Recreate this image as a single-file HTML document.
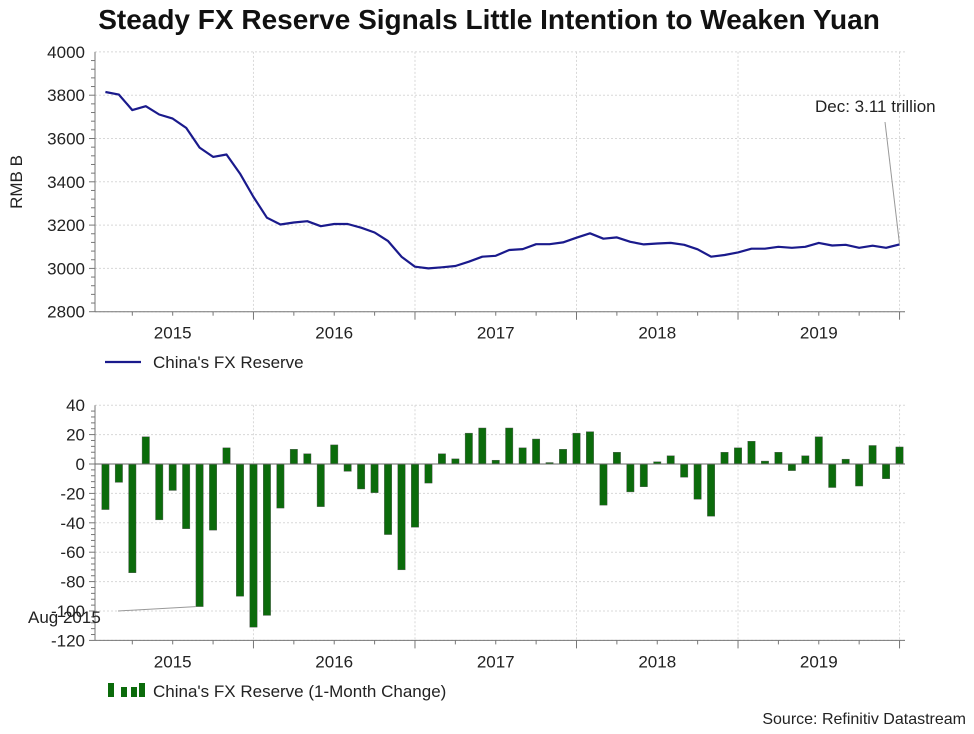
<!DOCTYPE html>
<html><head><meta charset="utf-8">
<style>
body{margin:0;background:#fff;}
svg text{font-family:"Liberation Sans",Arial,sans-serif;}
</style></head>
<body>
<svg id="chart" width="974" height="729" xmlns="http://www.w3.org/2000/svg">
<rect width="974" height="729" fill="#fff"/>
<text x="489" y="29" text-anchor="middle" font-size="28" font-weight="bold" fill="#111">Steady FX Reserve Signals Little Intention to Weaken Yuan</text>
<g id="top"></g>
<g id="bottom"></g>
<text x="966" y="724" text-anchor="end" font-size="16" fill="#222">Source: Refinitiv Datastream</text>
</svg>
<script>
const years = ["2015","2016","2017","2018","2019"];
const levelTicks = [2800,3000,3200,3400,3600,3800,4000];
const changeTicks = [-120,-100,-80,-60,-40,-20,0,20,40];
const reserveLevels = [3815,3803,3731,3749,3711,3692,3649,3558,3515,3526,3438,3330,
3234,3203,3212,3218,3195,3205,3205,3188,3166,3126,3054,3008,
3000,3005,3011,3031,3054,3058,3085,3089,3112,3112,3120,3142,
3162,3137,3143,3123,3111,3115,3118,3109,3088,3054,3062,3074,
3091,3091,3100,3095,3100,3118,3106,3109,3095,3105,3095,3111];
const monthlyChange = [-31,-12.5,-74,18.5,-38,-18,-44,-97,-45,11,-90,-111,
-103,-30,10,7,-29,13,-5,-17,-19.5,-48,-72,-43,
-13,7,3.5,21,24.5,2.6,24.5,11,17,1,10,21,
22,-28,8,-19,-15.5,1.5,5.6,-9,-24,-35.5,8,11,
15.5,2,8,-4.5,5.6,18.5,-16,3.3,-15,12.6,-10,11.6];

const NS="http://www.w3.org/2000/svg";
function mk(parent,tag,attrs,text){const e=document.createElementNS(NS,tag);for(const k in attrs)e.setAttribute(k,attrs[k]);if(text!==undefined)e.textContent=text;parent.appendChild(e);return e;}
const X0=95, XR=905, STEP=13.46;
const xMonth=i=>105.4+i*STEP;
function yTop(v){return 311.7-(v-2800)/200*43.3;}
function yBot(v){return 464-(v)/20*29.4;}

function frame(g,yTopPx,yBotPx,ticks,yf,fmt){
  ticks.forEach(t=>{
    const y=yf(t);
    const gl=mk(g,'line',{x1:X0,x2:XR,y1:y,y2:y,stroke:'#d8d8d8','stroke-dasharray':'2,2'});
    
    
    const tl=mk(g,'text',{x:85,y:y+6,'text-anchor':'end','font-size':17,fill:'#222'},fmt(t));
    
    
  });
  for(let i=0;i<ticks.length-1;i++){const a=yf(ticks[i]),b=yf(ticks[i+1]);for(let j=1;j<5;j++){const y=a+(b-a)*j/5;mk(g,'line',{x1:X0-4,x2:X0,y1:y,y2:y,stroke:'#777'});}
    mk(g,'line',{x1:X0-6,x2:X0,y1:a,y2:a,stroke:'#777'});}
  for(let k=0;k<=5;k++){
    const x=xMonth(12*k-1);
    if(k>0){const vg=mk(g,'line',{x1:x,x2:x,y1:yTopPx,y2:yBotPx,stroke:'#d8d8d8','stroke-dasharray':'2,2'});
      
      
      mk(g,'line',{x1:x,x2:x,y1:yBotPx,y2:yBotPx+8,stroke:'#777'});}
  }
  for(let m=2;m<60;m+=3){const x=xMonth(m);if((m+1)%12)mk(g,'line',{x1:x,x2:x,y1:yBotPx,y2:yBotPx+4,stroke:'#777'});}
  years.forEach((yr,k)=>{const x=(xMonth(12*k-1)+xMonth(12*k+11))/2;
    const t=mk(g,'text',{x:x,y:yBotPx+27,'text-anchor':'middle','font-size':17,fill:'#222'},yr);
    
    });
  const ax=mk(g,'line',{x1:X0,x2:X0,y1:yTopPx,y2:yBotPx,stroke:'#777'});
  
  
  const bx=mk(g,'line',{x1:X0,x2:XR,y1:yBotPx,y2:yBotPx,stroke:'#777'});
  
  
}

const gt=document.getElementById('top');
frame(gt,yTop(4000),yTop(2800),levelTicks,yTop,t=>String(t));
const yt=mk(gt,'text',{x:0,y:0,transform:'translate(22,182) rotate(-90)','text-anchor':'middle','font-size':17,fill:'#222'},'RMB B');


const pts=reserveLevels.map((v,i)=>xMonth(i).toFixed(1)+','+yTop(v).toFixed(1)).join(' ');
const pl=mk(gt,'polyline',{points:pts,fill:'none',stroke:'#1a1a8c','stroke-width':2.2,'stroke-linejoin':'round'});


const last=reserveLevels.length-1;
const al=mk(gt,'line',{x1:885,y1:122,x2:xMonth(last),y2:yTop(reserveLevels[last]),stroke:'#999'});


const at=mk(gt,'text',{x:815,y:112,'font-size':17,fill:'#222'},'Dec: 3.11 trillion');


const lg1=mk(gt,'line',{x1:105,x2:141,y1:362,y2:362,stroke:'#1a1a8c','stroke-width':2.2});


const lt1=mk(gt,'text',{x:153,y:368,'font-size':17,fill:'#222'},"China's FX Reserve");



const gb=document.getElementById('bottom');
frame(gb,yBot(40),yBot(-120),changeTicks,yBot,t=>String(t));
monthlyChange.forEach((v,i)=>{
  const y0=yBot(0),y1=yBot(v);
  const r=mk(gb,'rect',{x:xMonth(i)-3.7,y:Math.min(y0,y1),width:7.4,height:Math.max(1,Math.abs(y1-y0)),fill:'#0b6b0b',stroke:'#555','stroke-width':0.4});
  
  
});
const zl=mk(gb,'line',{x1:X0,x2:XR,y1:yBot(0),y2:yBot(0),stroke:'#666'});


const bl=mk(gb,'line',{x1:118,y1:611,x2:xMonth(7)-4,y2:yBot(monthlyChange[7]),stroke:'#999'});


const bt=mk(gb,'text',{x:28,y:623,'font-size':17,fill:'#222'},'Aug 2015');


const sw=[[108,683,6,14],[121,687,6,10],[131,687,6,10],[139,683,6,14]];
sw.forEach(s=>{const r=mk(gb,'rect',{x:s[0],y:s[1],width:s[2],height:s[3],fill:'#0b6b0b'});
  
  });
const lt2=mk(gb,'text',{x:153,y:697,'font-size':17,fill:'#222'},"China's FX Reserve (1-Month Change)");


</script>
</body></html>
